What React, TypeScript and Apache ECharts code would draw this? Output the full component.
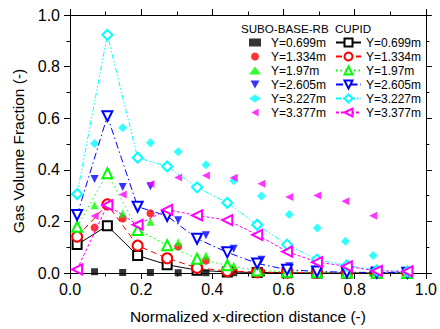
import React, { useEffect, useRef } from "react";
import * as echarts from "echarts";

const suboX = [0.069, 0.148, 0.226, 0.304, 0.382, 0.46, 0.538, 0.616, 0.695, 0.774, 0.852];
const cupidX = [0.02, 0.105, 0.19, 0.273, 0.357, 0.442, 0.526, 0.61, 0.694, 0.778, 0.862, 0.948];

const labels = ["Y=0.699m", "Y=1.334m", "Y=1.97m", "Y=2.605m", "Y=3.227m", "Y=3.377m"];
const colors = ["#000000", "#ff0000", "#00ff00", "#0000ff", "#00ffff", "#ff00ff"];

const subo0699 = [0.005, 0.002, 0.002, 0.001, 0.001, 0.001, 0, 0, 0, 0, 0];
const subo1334 = [0.176, 0.211, 0.231, 0.103, 0.048, 0.01, 0.004, 0.002, 0.001, 0, 0];
const subo197 = [0.263, 0.231, 0.199, 0.119, 0.068, 0.029, 0.01, 0.004, 0.002, 0.001, 0];
const subo2605 = [0.364, 0.333, 0.336, 0.204, 0.146, 0.094, 0.051, 0.026, 0.013, 0.004, 0.003];
const subo3227 = [0.502, 0.563, 0.505, 0.47, 0.42, 0.358, 0.298, 0.227, 0.174, 0.123, 0.068];
const subo3377 = [0.221, 0.304, 0.345, 0.37, 0.378, 0.369, 0.346, 0.295, 0.3, 0.278, 0.222];

const cupid0699 = [0.11, 0.183, 0.068, 0.032, 0.011, 0.004, 0.002, 0.001, 0, 0, 0, 0];
const cupid1334 = [0.141, 0.266, 0.106, 0.057, 0.02, 0.008, 0.003, 0.002, 0.001, 0, 0, 0];
const cupid197 = [0.179, 0.387, 0.167, 0.108, 0.055, 0.03, 0.01, 0.005, 0.003, 0.002, 0.001, 0];
const cupid2605 = [0.225, 0.608, 0.257, 0.221, 0.133, 0.08, 0.037, 0.013, 0.006, 0.003, 0.002, 0.001];
const cupid3227 = [0.306, 0.923, 0.447, 0.413, 0.332, 0.272, 0.187, 0.11, 0.052, 0.029, 0.01, 0.006];
const cupid3377 = [0.014, 0.263, 0.187, 0.245, 0.223, 0.205, 0.148, 0.083, 0.042, 0.026, 0.008, 0.006];

const suboSets = [subo0699, subo1334, subo197, subo2605, subo3227, subo3377];
const cupidSets = [cupid0699, cupid1334, cupid197, cupid2605, cupid3227, cupid3377];

const filledSymbols = ["rect", "circle", "triangle", "triangle", "diamond", "triangle"];
const legendIcons = [
  "rect",
  "circle",
  "triangle",
  "path://M0,0L10,0L5,9Z",
  "diamond",
  "path://M9,0L9,10L0,5Z",
];
const emptySymbols = ["emptyRect", "emptyCircle", "emptyTriangle", "emptyTriangle", "emptyDiamond", "emptyTriangle"];
const rotations = [0, 0, 0, 180, 0, 90];
const filledSizes = [7, 8, 8, 8, 9, 8];
const emptySizes = [9, 10, 10, 10, 10, 10];
const dashes: any[] = ["solid", [6, 4], [1.5, 3], [7, 3, 1.5, 3], [5, 2, 1.5, 2, 1.5, 2], [3, 2]];

const FONT = "Liberation Sans, Arial, sans-serif";

export default function App() {
  const ref = useRef<HTMLDivElement>(null);
  useEffect(() => {
    if (!ref.current) return;
    document.body.style.margin = "0";
    const chart = echarts.init(ref.current, undefined, { renderer: "svg" });

    const suboNames = labels.map((l) => l);
    const cupidNames = labels.map((l) => l + " ");

    const series: any[] = [];
    suboSets.forEach((vals, i) => {
      series.push({
        name: suboNames[i],
        type: "scatter",
        symbol: filledSymbols[i],
        symbolRotate: rotations[i],
        symbolSize: filledSizes[i],
        itemStyle: { color: colors[i] },
        data: suboX.map((x, j) => [x, vals[j]]),
        z: 2,
      });
    });
    cupidSets.forEach((vals, i) => {
      series.push({
        name: cupidNames[i],
        type: "line",
        symbol: emptySymbols[i],
        symbolRotate: rotations[i],
        symbolSize: emptySizes[i],
        showAllSymbol: true,
        itemStyle: { color: colors[i], borderWidth: 1 },
        lineStyle: { color: colors[i], width: 1, type: dashes[i] },
        data: cupidX.map((x, j) => [x, vals[j]]),
        z: 3,
      });
    });

    const axisCommon = {
      type: "value",
      min: 0,
      max: 1,
      interval: 0.2,
      axisLine: { show: true, onZero: false, lineStyle: { color: "#000", width: 1 } },
      axisTick: { show: true, inside: false, length: 6, lineStyle: { color: "#000" } },
      minorTick: { show: true, splitNumber: 2, length: 3.5, lineStyle: { color: "#000" } },
      splitLine: { show: false },
    };

    chart.setOption({
      animation: false,
      backgroundColor: "#ffffff",
      grid: { left: 70, right: 12, top: 15, bottom: 53, containLabel: false },
      textStyle: { fontFamily: FONT },
      xAxis: [
        {
          ...axisCommon,
          position: "bottom",
          name: "Normalized x-direction distance (-)",
          nameLocation: "middle",
          nameGap: 35,
          nameTextStyle: { fontSize: 15.5, color: "#000", fontFamily: FONT, verticalAlign: "top" },
          axisLabel: {
            fontSize: 16,
            color: "#000",
            fontFamily: FONT,
            margin: 8,
            formatter: (v: number) => v.toFixed(1),
          },
        },
        { ...axisCommon, position: "top", axisLabel: { show: false } },
      ],
      yAxis: [
        {
          ...axisCommon,
          position: "left",
          name: "Gas Volume Fraction (-)",
          nameLocation: "middle",
          nameGap: 34,
          nameTextStyle: { fontSize: 15.5, color: "#000", fontFamily: FONT, padding: [0, 14, 0, 0] },
          axisLabel: {
            fontSize: 16,
            color: "#000",
            fontFamily: FONT,
            margin: 10,
            formatter: (v: number) => v.toFixed(1),
          },
        },
        { ...axisCommon, position: "right", axisLabel: { show: false } },
      ],
      legend: [
        {
          data: suboNames.map((n, i) => ({ name: n, icon: legendIcons[i] })),
          orient: "vertical",
          left: 249,
          top: 35.5,
          padding: 0,
          itemWidth: 12,
          itemHeight: 8,
          itemGap: 0,
          textStyle: { fontSize: 12, lineHeight: 14, color: "#000", fontFamily: FONT, padding: [0, 0, 0, 5] },
          selectedMode: false,
        },
        {
          data: cupidNames,
          orient: "vertical",
          left: 335,
          top: 35.5,
          padding: 0,
          itemWidth: 25,
          itemHeight: 10,
          itemGap: 0,
          textStyle: { fontSize: 12, lineHeight: 14, color: "#000", fontFamily: FONT },
          selectedMode: false,
        },
      ],
      graphic: [
        {
          type: "text",
          left: 241,
          top: 22,
          style: { text: "SUBO-BASE-RB", fontSize: 11.6, fill: "#000", fontFamily: FONT },
        },
        {
          type: "text",
          left: 335,
          top: 22,
          style: { text: "CUPID", fontSize: 11.6, fill: "#000", fontFamily: FONT },
        },
      ],
      series,
    });
    return () => chart.dispose();
  }, []);
  return <div ref={ref} style={{ width: 440, height: 329 }} />;
}
